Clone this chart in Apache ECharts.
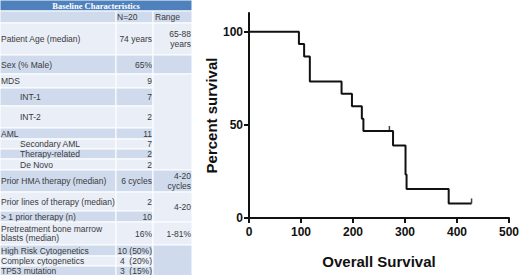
<!DOCTYPE html>
<html>
<head>
<meta charset="utf-8">
<script src="https://cdn.jsdelivr.net/npm/echarts@6/dist/echarts.min.js"></script>
<style>
  html, body { margin: 0; padding: 0; background: #fff; }
  #chart { width: 520px; height: 275px; }
</style>
</head>
<body>
<div id="chart"></div>
<script>
// table contents
const tableTitle = 'Baseline Characteristics'
const columnHeads = ['N=20', 'Range']
const rowLabels = [
  'Patient Age (median)', 'Sex (% Male)', 'MDS', 'INT-1', 'INT-2', 'AML',
  'Secondary AML', 'Therapy-related', 'De Novo', 'Prior HMA therapy (median)',
  'Prior lines of therapy (median)', '> 1 prior therapy (n)',
  'Pretreatment bone marrow\nblasts (median)', 'High Risk Cytogenetics',
  'Complex cytogenetics', 'TP53 mutation'
]
const rowValues = ['74 years', '65%', '9', '7', '2', '11', '7', '2', '2', '6 cycles', '2', '10', '16%', '10 (50%)', '4  (20%)', '3  (15%)']
const subRows = ['INT-1', 'INT-2', 'Secondary AML', 'Therapy-related', 'De Novo']
// range column is made of merged cells: first row, last row, text
const rangeFirst = [0, 1, 2, 9, 10, 12, 13]
const rangeLast = [0, 1, 8, 9, 11, 12, 15]
const rangeTexts = ['65-88\nyears', '', '', '4-20\ncycles', '4-20', '1-81%', '']

// survival curve (days, percent)
const days = [0, 96, 106, 117, 178, 198, 217, 220, 277, 301, 303, 384, 428]
const survival = [100, 93.3, 86.7, 73.3, 66.7, 60, 53.3, 46.7, 38.9, 23.3, 15.6, 7.8, 7.8]
const censorDays = [270, 428]
const censorSurvival = [46.7, 7.8]
const xTicks = [0, 100, 200, 300, 400, 500]
const yTicks = [0, 50, 100]

// table layout
const colEdges = [0, 116, 153, 192]
const rowEdges = [23, 55, 74, 88, 106, 128, 139, 149, 159, 170, 192, 211, 222, 245, 256, 266, 276]
const dark = '#cfdbed'
const light = '#e9eef7'
const txtFont = '8.5px "Liberation Sans"'

const graphic = []
function cell(x0, y0, x1, y1, fill) {
  graphic.push({
    type: 'rect', silent: true,
    shape: { x: x0, y: y0, width: x1 - x0, height: y1 - y0 },
    style: { fill: fill, stroke: '#fff', lineWidth: 1 }
  })
}
function label(x, y, t, align, extra) {
  graphic.push({
    type: 'text', silent: true, x: x, y: y,
    style: Object.assign({
      text: t, fill: '#3a3a3a', font: txtFont,
      align: align, verticalAlign: 'middle', lineHeight: 9.5
    }, extra || {})
  })
}

// title + column heads
cell(0, 0, colEdges[3], 11, '#4f81bd')
label(colEdges[3] / 2, 6, tableTitle, 'center', { fill: '#fff', font: 'bold 8.5px "Liberation Serif"' })
cell(0, 11, colEdges[1], rowEdges[0], dark)
cell(colEdges[1], 11, colEdges[2], rowEdges[0], dark)
cell(colEdges[2], 11, colEdges[3], rowEdges[0], dark)
label(colEdges[1] + 1, 17, columnHeads[0], 'left')
label(colEdges[2] + 2, 17, columnHeads[1], 'left')

rowLabels.forEach((name, i) => {
  const top = rowEdges[i], bottom = rowEdges[i + 1]
  const fill = i % 2 ? dark : light
  cell(0, top, colEdges[1], bottom, fill)
  cell(colEdges[1], top, colEdges[2], bottom, fill)
  const mid = (top + bottom) / 2
  label(subRows.includes(name) ? 20 : 1, mid, name, 'left')
  label(colEdges[2] - 1, mid, rowValues[i], 'right')
})

rangeTexts.forEach((t, k) => {
  const top = rowEdges[rangeFirst[k]], bottom = rowEdges[rangeLast[k] + 1]
  cell(colEdges[2], top, colEdges[3], bottom, rangeFirst[k] % 2 ? dark : light)
  if (t) label(colEdges[3] - 1, (top + bottom) / 2, t, 'right')
})

const axisFont = { fontFamily: 'Liberation Sans', fontWeight: 'bold', color: '#111' }

const chart = echarts.init(document.getElementById('chart'), null, { renderer: 'svg' })
chart.setOption({
  animation: false,
  grid: { left: 249, right: 11, top: 13, bottom: 57, outerBoundsMode: 'none' },
  xAxis: {
    type: 'value', min: 0, max: 500, interval: 100,
    name: 'Overall Survival', nameLocation: 'middle', nameGap: 36,
    nameTextStyle: Object.assign({ fontSize: 15 }, axisFont),
    axisLine: { lineStyle: { color: '#111', width: 2 } },
    axisTick: { length: 5, lineStyle: { color: '#111', width: 2 }, customValues: xTicks },
    axisLabel: Object.assign({ fontSize: 12, margin: 8, customValues: xTicks }, axisFont),
    splitLine: { show: false }
  },
  yAxis: {
    type: 'value', min: 0, max: 110, interval: 50,
    name: 'Percent survival', nameLocation: 'middle', nameGap: 30, nameRotate: 90,
    nameTextStyle: Object.assign({ fontSize: 15 }, axisFont),
    axisLine: { show: true, lineStyle: { color: '#111', width: 2 } },
    axisTick: { show: true, length: 5, lineStyle: { color: '#111', width: 2 }, customValues: yTicks },
    axisLabel: Object.assign({ fontSize: 12, margin: 6, customValues: yTicks }, axisFont),
    splitLine: { show: false }
  },
  series: [
    {
      type: 'line', step: 'end', symbol: 'none',
      lineStyle: { color: '#111', width: 2 },
      data: days.map((d, i) => [d, survival[i]])
    },
    {
      type: 'scatter', symbol: 'rect', symbolSize: [1.5, 5], symbolOffset: [0, -2.5],
      itemStyle: { color: '#111' },
      data: censorDays.map((d, i) => [d, censorSurvival[i]])
    }
  ],
  graphic: graphic
})
</script>
</body>
</html>
